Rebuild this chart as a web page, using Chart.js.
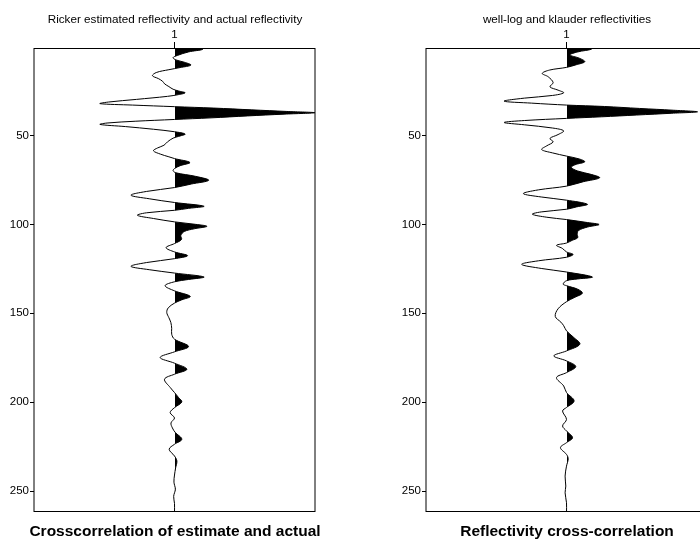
<!DOCTYPE html>
<html>
<head>
<meta charset="utf-8">
<script src="https://cdn.jsdelivr.net/npm/chart.js@4.4.1/dist/chart.umd.min.js"></script>
<style>
  html, body { margin: 0; padding: 0; background: #fff; overflow: hidden; }
  body { width: 700px; height: 542px; position: relative; }
  canvas { position: absolute; top: 0; }
  #leftChart { left: 0; }
  #rightChart { left: 392px; }
</style>
</head>
<body>
<canvas id="leftChart" width="350" height="542"></canvas>
<canvas id="rightChart" width="350" height="542"></canvas>
<script>
// trace values: depth (sample) and amplitude (1 = half panel)
const leftDepth = [0.8, 1.6, 3.0, 5.0, 6.2, 7.5, 8.8, 10.4, 11.8, 13.0, 14.6, 16.4, 18.0, 19.5, 21.0, 22.5, 24.0, 25.0, 26.0, 27.0, 28.0, 29.7, 31.2, 32.1, 32.9, 33.8,
  34.6, 35.6, 36.5, 37.2, 38.0, 39.0, 40.1, 41.0, 42.0, 43.0, 43.8, 45.0, 46.5, 47.9, 49.2, 50.5, 51.5, 53.6, 55.5, 57.0, 58.6, 60.5, 62.0, 63.0,
  65.2, 67.0, 68.6, 69.8, 71.0, 73.0, 75.2, 77.3, 79.3, 81.5, 83.6, 85.6, 87.7, 89.8, 91.0, 92.1, 93.5, 94.9, 96.7, 98.6, 100.0, 101.1, 102.5,
  104.0, 106.2, 108.5, 110.8, 113.1, 115.5, 117.6, 119.3, 121.5, 123.6, 125.5, 127.4, 129.6, 131.0, 132.3, 134.5, 137.4, 140.5, 142.5, 144.3,
  147.0, 149.6, 152.5, 155.2, 158.5, 161.8, 164.6, 168.7, 171.7, 174.9, 178.1, 181.5, 184.3, 187.1, 191.8, 194.6, 197.5, 199.9, 203.1, 205.9,
  208.9, 211.7, 214.5, 217.0, 220.9, 223.7, 226.5, 230.3, 233.1, 237, 241, 245, 249, 253, 257, 261.8];
const leftAmp = [0.17, 0.20, 0.10, 0.02, -0.01, 0.01, 0.07, 0.117, 0.04, -0.04, -0.13, -0.157, -0.115, -0.085, -0.07, -0.04, -0.01, 0.03, 0.076, 0.03, -0.05, -0.27, -0.47, -0.53, -0.3, 0.0,
  0.28, 0.55, 0.8, 1.0, 0.78, 0.52, 0.26, 0.0, -0.28, -0.48, -0.53, -0.35, -0.15, 0.0, 0.076, 0.03, -0.01, -0.05, -0.075, -0.12, -0.15, -0.10, -0.04, 0.0,
  0.11, 0.04, 0.0, -0.01, 0.01, 0.15, 0.243, 0.12, 0.0, -0.2, -0.31, -0.18, 0.0, 0.21, 0.1, 0.0, -0.2, -0.264, -0.15, 0.0, 0.15, 0.231, 0.14,
  0.07, 0.045, 0.05, 0.0, -0.06, 0.0, 0.093, 0.0, -0.2, -0.31, -0.18, 0.0, 0.21, 0.1, 0.0, -0.067, 0.0, 0.112, 0.05, 0.0,
  -0.045, -0.055, -0.04, -0.026, -0.02, -0.02, 0.0, 0.10, 0.0, -0.102, 0.0, 0.088, 0.0, -0.071, -0.03, 0.0, 0.03, 0.052, 0.0, -0.031,
  0.0, -0.025, -0.015, 0.005, 0.052, 0.0, -0.038, 0.0, 0.017, 0.008, 0.0, -0.004, 0.006, -0.006, 0.0, 0.0];

const rightDepth = [0.8, 1.5, 3.0, 4.7, 6.5, 8.5, 10.2, 11.7, 13.2, 15.1, 17.0, 20.3, 22.6, 24.5, 26.0, 27.5, 29.0, 30.7, 31.8, 32.9,
  33.7, 34.8, 35.8, 36.7, 37.5, 38.5, 39.5, 40.4, 41.6, 42.7, 44.0, 45.8, 47.4, 49.5, 51.7, 53.6, 55.8, 57.9, 59.8, 61.6,
  63.2, 64.8, 66.5, 68.0, 70.0, 72.0, 73.8, 76.0, 78.5, 80.6, 82.7, 84.6, 86.4, 88.7, 90.2, 91.5, 93.0, 94.3, 96.0, 97.3, 99.0, 100.1, 101.5,
  103.5, 105.6, 107.5, 109.0, 110.5, 111.8, 113.5, 115.5, 116.9, 118.5, 120.5, 122.5, 124.8, 126.8, 129.6, 130.7, 131.7, 133.6, 134.5, 136.5,
  138.7, 141.0, 143.5, 147.5, 151.8, 155.0, 157.0, 159.9, 163.5, 167.4, 171.2, 174.0, 176.8, 180.0, 183.4, 186.2, 190.9, 194.6, 199.3, 203.0,
  205.0, 209.7, 213.4, 216.2, 220.0, 222.8, 225.6, 229.4, 231.8, 236.0, 241.6, 247.2, 251.0, 256.6, 261.8];
const rightAmp = [0.15, 0.177, 0.08, 0.025, 0.09, 0.13, 0.07, 0.0, -0.12, -0.173, -0.13, -0.095, -0.118, -0.06, -0.02, -0.1, -0.3, -0.444, -0.25, 0.0,
  0.27, 0.52, 0.76, 0.933, 0.75, 0.5, 0.25, 0.0, -0.3, -0.444, -0.3, -0.1, -0.02, -0.06, -0.118, -0.095, -0.14, -0.177, -0.1, 0.0,
  0.09, 0.13, 0.06, 0.035, 0.08, 0.18, 0.236, 0.12, 0.0, -0.2, -0.307, -0.18, 0.0, 0.149, 0.07, 0.0, -0.18, -0.243, -0.14, 0.0, 0.15, 0.232, 0.15,
  0.085, 0.076, 0.08, 0.04, 0.0, -0.071, -0.03, 0.0, 0.047, 0.0, -0.2, -0.319, -0.18, 0.0, 0.184, 0.08, 0.0, -0.024, 0.0, 0.08,
  0.113, 0.06, 0.0, -0.06, -0.08, -0.04, -0.02, 0.0, 0.05, 0.095, 0.0, -0.09, 0.0, 0.066, 0.0, -0.071, -0.02, 0.0, 0.054, 0.0,
  -0.028, 0.0, -0.028, 0.0, 0.043, 0.0, -0.043, 0.0, 0.012, 0.0, -0.01, -0.005, -0.01, 0.0, 0.0];

const yTicks = [50, 100, 150, 200, 250];
const xTicks = [1];

Chart.defaults.color = '#000';
Chart.defaults.font.family = "'Liberation Sans', Arial, sans-serif";
Chart.defaults.font.size = 11.5;

// only keep the fill to the right of the trace axis
const clipPositive = {
  id: 'clipPositive',
  beforeDatasetsDraw(chart) {
    const a = chart.chartArea;
    const mid = Math.round(chart.scales.x.getPixelForValue(1));
    chart.ctx.save();
    chart.ctx.beginPath();
    chart.ctx.rect(mid, a.top, a.right - mid, a.bottom - a.top);
    chart.ctx.clip();
  },
  afterDatasetDraw(chart, args) {
    if (args.index === 1) chart.ctx.restore();
  }
};

const frame = {
  id: 'frame',
  afterDraw(chart) {
    const a = chart.chartArea;
    const ctx = chart.ctx;
    ctx.save();
    ctx.strokeStyle = '#000';
    ctx.lineWidth = 1;
    ctx.beginPath();
    ctx.moveTo(a.left, a.top + 0.5);
    ctx.lineTo(a.right, a.top + 0.5);
    ctx.moveTo(a.left, a.bottom - 0.5);
    ctx.lineTo(a.right, a.bottom - 0.5);
    ctx.moveTo(a.left, a.top);
    ctx.lineTo(a.left, a.bottom);
    ctx.moveTo(a.right, a.top);
    ctx.lineTo(a.right, a.bottom);
    ctx.stroke();
    ctx.restore();
  }
};

function makeChart(id, depth, amp, title, caption) {
  const points = depth.map((d, i) => ({ x: 1 + amp[i], y: d }));
  return new Chart(document.getElementById(id), {
    type: 'line',
    data: {
      datasets: [
        { data: points, borderColor: '#000', borderWidth: 1, pointRadius: 0, tension: 0.35, fill: false },
        { data: points, borderWidth: 0, pointRadius: 0, tension: 0.35, backgroundColor: '#000',
          fill: { target: { value: 1 } } }
      ]
    },
    options: {
      responsive: false,
      animation: false,
      indexAxis: 'y',
      layout: { padding: 0 },
      plugins: {
        legend: { display: false },
        tooltip: { enabled: false },
        title: {
          display: true, text: title, position: 'top', color: '#000',
          font: { size: 11.7, weight: 'normal', lineHeight: '16px' },
          padding: { top: 12, bottom: 0 }
        },
        subtitle: {
          display: true, text: caption, position: 'bottom', color: '#000',
          font: { size: 15.5, weight: 'bold', lineHeight: '20px' },
          padding: { top: 10, bottom: 0 }
        }
      },
      scales: {
        x: {
          type: 'linear', position: 'top', min: 0, max: 2,
          afterBuildTicks: s => { s.ticks = xTicks.map(v => ({ value: v })); },
          afterFit: s => { s.height = 20; },
          grid: { drawOnChartArea: false, drawTicks: true, tickLength: 6, color: '#000' },
          border: { display: false },
          ticks: { padding: 0, color: '#000', callback: v => String(v) }
        },
        y: {
          type: 'linear', position: 'left', reverse: true, min: 0.8, max: 261.8,
          afterBuildTicks: s => { s.ticks = yTicks.map(v => ({ value: v })); },
          afterFit: s => { s.width = 34; },
          grid: { drawOnChartArea: false, drawTicks: true, tickLength: 4, color: '#000' },
          border: { display: false },
          ticks: { padding: 1, color: '#000', callback: v => String(v) }
        },
        // empty right margin so the titles stay centred on the panel
        y2: {
          type: 'linear', position: 'right', min: 0.8, max: 261.8,
          afterFit: s => { s.width = 35; },
          grid: { display: false },
          border: { display: false },
          ticks: { display: false }
        }
      }
    },
    plugins: [clipPositive, frame]
  });
}

makeChart('leftChart', leftDepth, leftAmp,
  'Ricker estimated reflectivity and actual reflectivity', 'Crosscorrelation of estimate and actual');
makeChart('rightChart', rightDepth, rightAmp,
  'well-log and klauder reflectivities', 'Reflectivity cross-correlation');
</script>
</body>
</html>
